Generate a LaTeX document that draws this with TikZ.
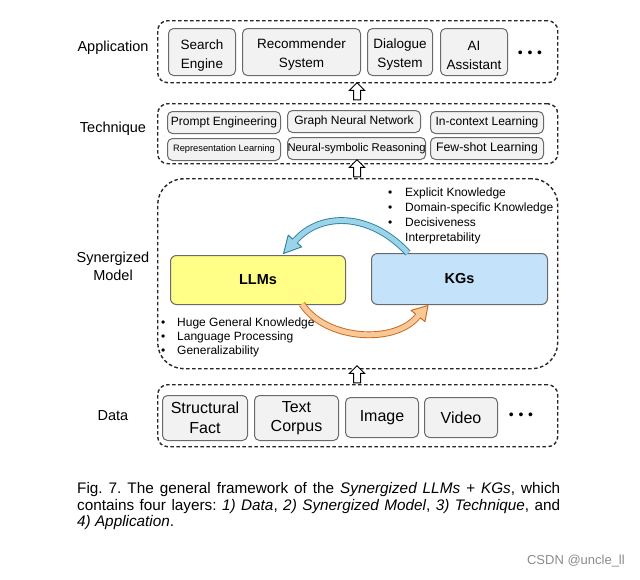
\documentclass[tikz,border=0pt]{standalone}
\usepackage{fontspec}
\setmainfont{Liberation Sans}
\usetikzlibrary{shapes.arrows,calc}
\definecolor{boxgray}{HTML}{F2F2F2}
\definecolor{edgegray}{HTML}{6A6A6A}
\definecolor{llmfill}{HTML}{FFFF88}
\definecolor{kgfill}{HTML}{C4E2FA}
\definecolor{blueD}{HTML}{2C7F9F}
\definecolor{blueL}{HTML}{9BD4E9}
\definecolor{orD}{HTML}{C8661C}
\definecolor{orL}{HTML}{F9C897}
\tikzset{
  layer/.style={draw=black!85, dash pattern=on 3.5pt off 2.5pt, line width=1.4pt, rounded corners=10pt, anchor=north west, inner sep=0pt},
  ibox/.style={draw=edgegray, fill=boxgray, rounded corners=5pt, line width=1pt, align=center, inner sep=0pt, anchor=north west},
  btext/.style={align=center, inner sep=0pt, font=\fontsize{13.5}{19}\selectfont},
  lbl/.style={font=\fontsize{14.5}{18}\selectfont, align=center},
  uparr/.style={single arrow, draw=black, fill=white, line width=1pt, shape border rotate=90, minimum height=17pt, inner sep=3pt, single arrow head extend=4pt},
  dots/.style={font=\fontsize{14}{14}\selectfont, inner sep=0pt},
  blist/.style={anchor=north west, align=left, inner sep=0pt},
  mbox/.style={draw=edgegray, line width=1pt, rounded corners=6pt, anchor=north west, inner sep=0pt, font=\fontsize{14.5}{16}\selectfont\bfseries},
  bigarrow/.style={line width=0.9pt, double distance=5pt},
  arrhead/.style={line width=0.9pt, line join=round}
}
\newcommand{\bul}[2]{\makebox[#1][l]{•}#2}
\begin{document}
\frenchspacing
\begin{tikzpicture}[x=1pt,y=-1pt]
\useasboundingbox[fill=white] (0,0) rectangle (640,579);

% Application layer
\node[layer, minimum width=400pt, minimum height=62pt] (app) at (157,20) {};
\node[lbl] (lapp) at (113,48) {Application};
\node[ibox, minimum width=67pt, minimum height=47pt] (se) at (168,28) {};
\node[ibox, minimum width=118pt, minimum height=47pt] (rs) at (242,28) {};
\node[ibox, minimum width=65pt, minimum height=47pt] (ds) at (367,28) {};
\node[ibox, minimum width=67pt, minimum height=47pt] (ai) at (440,28) {};
\node[btext] (set) at ([yshift=-4pt]se.center) {Search\\Engine};
\node[btext] (rst) at ([yshift=-2.5pt]rs.center) {Recommender\\System};
\node[btext] (dst) at ([yshift=-3pt]ds.center) {Dialogue\\System};
\node[btext] (ait) at ([yshift=-3pt]ai.center) {AI\\Assistant};
\node[dots] (d1) at (530,54) {•\,\,•\,\,•};

\node[uparr] (a1) at (357,93) {};

% Technique layer
\node[layer, minimum width=400pt, minimum height=60pt] (tech) at (157,103) {};
\node[lbl] (ltech) at (113,129) {Technique};
\node[ibox, minimum width=113pt, minimum height=22pt, font=\fontsize{12}{14}\selectfont] (pe) at (167,111) {Prompt Engineering};
\node[ibox, minimum width=133pt, minimum height=22pt, font=\fontsize{12}{14}\selectfont] (gnn) at (287,110) {Graph Neural Network};
\node[ibox, minimum width=113pt, minimum height=22pt, font=\fontsize{12}{14}\selectfont] (icl) at (430,111) {In-context Learning};
\node[ibox, minimum width=113pt, minimum height=22pt, font=\fontsize{9.3}{11}\selectfont] (rl) at (167,138) {Representation Learning};
\node[ibox, minimum width=136pt, minimum height=22pt, font=\fontsize{11.3}{13}\selectfont] (nsr) at (287,137) {Neural-symbolic Reasoning};
\node[ibox, minimum width=113pt, minimum height=22pt, font=\fontsize{12.3}{14}\selectfont] (fsl) at (430,137) {Few-shot Learning};

\node[uparr] (a2) at (357,170) {};

% Synergized model layer
\node[layer, rounded corners=26pt, minimum width=400pt, minimum height=190pt] (syn) at (157,178) {};
\node[lbl] (lsyn) at (113,266) {Synergized\\Model};
\node[mbox, fill=llmfill, minimum width=175pt, minimum height=49pt] (llm) at (170,255) {LLMs};
\node[mbox, fill=kgfill, minimum width=176pt, minimum height=51pt] (kg) at (371,253) {KGs};

\node[blist, font=\fontsize{12}{14.7}\selectfont] (kgl) at (388,188) {\bul{17pt}{Explicit Knowledge}\\\bul{17pt}{Domain-specific Knowledge}\\\bul{17pt}{Decisiveness}\\\bul{17pt}{Interpretability}};
\node[blist, font=\fontsize{12}{14}\selectfont] (llml) at (161,318) {\bul{16pt}{Huge General Knowledge}\\\bul{16pt}{Language Processing}\\\bul{16pt}{Generalizability}};

% blue curved arrow KGs -> LLMs
\coordinate (bs) at ([xshift=37pt]kg.north west);
\coordinate (be) at (295,241);
\coordinate (bt) at ([xshift=113.5pt,yshift=1.5pt]llm.north west);
\draw[bigarrow, draw=blueD, double=blueL] (bs) .. controls (370,212) and (320,212) .. (be);
\filldraw[arrhead, fill=blueL, draw=blueD] (301.75,246.9) -- (bt) -- (288.25,235.1) -- cycle;
\draw[blueL, line width=5pt] ($(be)+(1.3,-1.5)$) -- ($(be)+(-1.3,1.5)$);

% orange curved arrow LLMs -> KGs
\coordinate (os) at ([xshift=132pt,yshift=1pt]llm.south west);
\coordinate (oe) at (418,316);
\coordinate (ot) at ([xshift=57pt,yshift=-0.5pt]kg.south west);
\draw[bigarrow, draw=orD, double=orL] (os) .. controls (325,340) and (395,345) .. (oe);
\filldraw[arrhead, fill=orL, draw=orD] (425.0,321.6) -- (ot) -- (411.0,310.4) -- cycle;
\draw[orL, line width=5pt] ($(oe)+(-1.2,1.5)$) -- ($(oe)+(1.2,-1.5)$);

\node[uparr] (a3) at (357,376) {};

% Data layer
\node[layer, minimum width=400pt, minimum height=62pt] (data) at (157,384) {};
\node[lbl] (ldata) at (113,416) {Data};
\begin{scope}[every node/.append style={font=\fontsize{16}{19.5}\selectfont}]
\node[ibox, minimum width=85pt, minimum height=45pt] (sf) at (162,395) {Structural\\Fact};
\node[ibox, minimum width=84pt, minimum height=45pt] (tc) at (254,395) {Text\\Corpus};
\node[ibox, minimum width=73pt, minimum height=40pt] (img) at (345,397) {Image};
\node[ibox, minimum width=73pt, minimum height=40pt] (vid) at (424,397) {Video};
\end{scope}
\node[dots] (d2) at (521,416) {•\,\,•\,\,•};

% caption
\node[anchor=north west, inner sep=0pt, text width=483pt, align=justify, font=\fontsize{15.3}{16.5}\selectfont] (cap) at (77,482.5)
{Fig. 7. The general framework of the \textit{Synergized LLMs + KGs}, which\linebreak contains four layers: \textit{1) Data}, \textit{2) Synergized Model}, \textit{3) Technique}, and\linebreak \textit{4) Application}.};

\node[anchor=east, inner sep=0pt, text=black!45, font=\fontsize{13}{14}\selectfont] (wm) at (625,561) {CSDN @uncle\_ll};
\end{tikzpicture}
\end{document}
